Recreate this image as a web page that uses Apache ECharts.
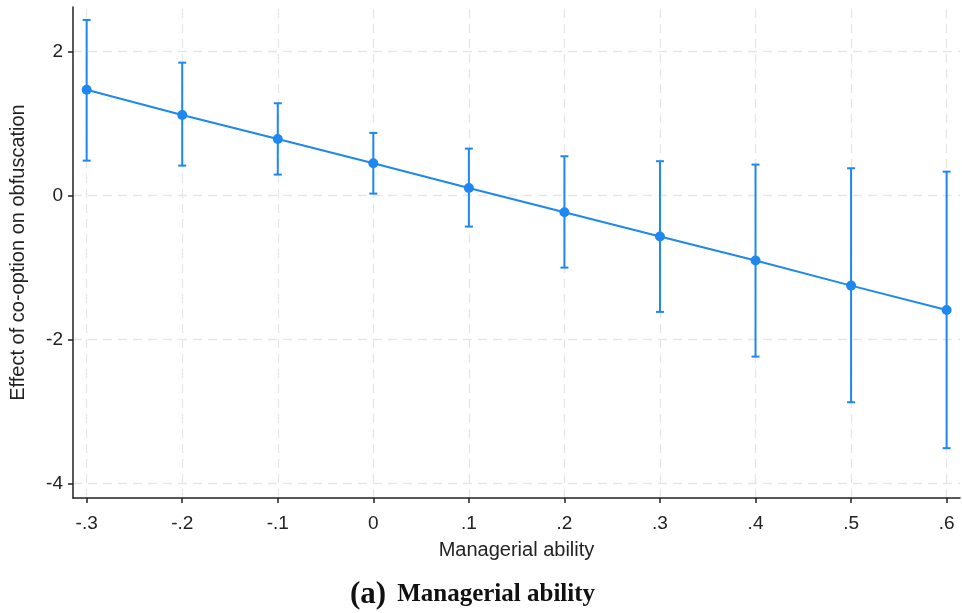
<!DOCTYPE html>
<html>
<head>
<meta charset="utf-8">
<script src="https://cdn.jsdelivr.net/npm/echarts@6/dist/echarts.min.js"></script>
<style>html,body{margin:0;padding:0;background:#fff}#main{width:962px;height:613px}</style>
</head>
<body>
<div id="main"></div>
<script>
// Data
const xValues = [-0.3, -0.2, -0.1, 0, 0.1, 0.2, 0.3, 0.4, 0.5, 0.6];
const effect  = [1.47, 1.12, 0.787, 0.45, 0.107, -0.231, -0.569, -0.902, -1.25, -1.588];
const upper   = [2.44, 1.847, 1.283, 0.871, 0.653, 0.547, 0.478, 0.431, 0.38, 0.333];
const lower   = [0.486, 0.417, 0.292, 0.028, -0.43, -1.0, -1.615, -2.236, -2.87, -3.508];
const xTicks = [-0.3, -0.2, -0.1, 0, 0.1, 0.2, 0.3, 0.4, 0.5, 0.6];
const yTicks = [-4, -2, 0, 2];

const blue = '#1f87f0';
const fmtX = v => {
  const r = Math.round(v * 10) / 10;
  if (r === 0) return '0';
  const s = Math.abs(r).toFixed(1).replace(/^0/, '');
  return (r < 0 ? '-' : '') + s;
};

const chart = echarts.init(document.getElementById('main'));
const gridLineStyle = {color: '#e6e6e6', type: [9, 6], width: 1.3};
chart.setOption({
  animation: false,
  backgroundColor: '#fff',
  textStyle: {fontFamily: 'Liberation Sans, Arial, sans-serif'},
  title: {
    text: '{a|(a)} {b|Managerial ability}',
    left: 345, top: 574,
    textStyle: {
      rich: {
        a: {fontFamily: 'Liberation Serif', fontWeight: 'bold', fontSize: 31, color: '#111'},
        b: {fontFamily: 'Liberation Serif', fontWeight: 'bold', fontSize: 25, color: '#111', padding: [0, 0, 0, 6]}
      }
    }
  },
  grid: {left: 73, right: 2, top: 7, bottom: 115, containLabel: false},
  xAxis: {
    type: 'value', min: -0.3143, max: 0.614,
    name: 'Managerial ability', nameLocation: 'middle', nameGap: 42,
    nameTextStyle: {fontSize: 20, color: '#222'},
    axisLine: {show: true, onZero: false, lineStyle: {color: '#222', width: 1.5}},
    axisTick: {show: true, length: 5, customValues: xTicks, lineStyle: {color: '#222', width: 1.5}},
    axisLabel: {customValues: xTicks, formatter: fmtX, fontSize: 19, color: '#222', margin: 16},
    splitLine: {show: false}
  },
  yAxis: {
    type: 'value', min: -4.2, max: 2.62,
    name: 'Effect of co-option on obfuscation', nameLocation: 'middle', nameGap: 45,
    nameTextStyle: {fontSize: 20, color: '#222'},
    axisLine: {show: true, onZero: false, lineStyle: {color: '#222', width: 1.5}},
    axisTick: {show: true, length: 5, customValues: yTicks, lineStyle: {color: '#222', width: 1.5}},
    axisLabel: {customValues: yTicks, formatter: v => String(Math.round(v)), fontSize: 19, color: '#222', margin: 10},
    splitLine: {show: false}
  },
  series: [
    {
      type: 'line', silent: true, data: [], z: 0,
      markLine: {
        z: 0,
        silent: true, symbol: 'none', label: {show: false},
        lineStyle: gridLineStyle, animation: false,
        data: xTicks.map(v => ({xAxis: v})).concat(yTicks.map(v => ({yAxis: v})))
      }
    },
    {
      type: 'custom', z: 10,
      data: xValues.map((x, i) => [x, lower[i], upper[i]]),
      renderItem: (params, api) => {
        const x = api.value(0);
        const lo = api.coord([x, api.value(1)]);
        const hi = api.coord([x, api.value(2)]);
        const w = 4;
        const st = {stroke: blue, lineWidth: 2};
        return {
          type: 'group',
          children: [
            {type: 'line', shape: {x1: lo[0], y1: lo[1], x2: hi[0], y2: hi[1]}, style: st},
            {type: 'line', shape: {x1: hi[0] - w, y1: hi[1], x2: hi[0] + w, y2: hi[1]}, style: st},
            {type: 'line', shape: {x1: lo[0] - w, y1: lo[1], x2: lo[0] + w, y2: lo[1]}, style: st}
          ]
        };
      }
    },
    {
      type: 'line', z: 11,
      data: xValues.map((x, i) => [x, effect[i]]),
      symbol: 'circle', symbolSize: 10,
      lineStyle: {color: blue, width: 2},
      itemStyle: {color: blue}
    }
  ]
});
</script>
</body>
</html>
